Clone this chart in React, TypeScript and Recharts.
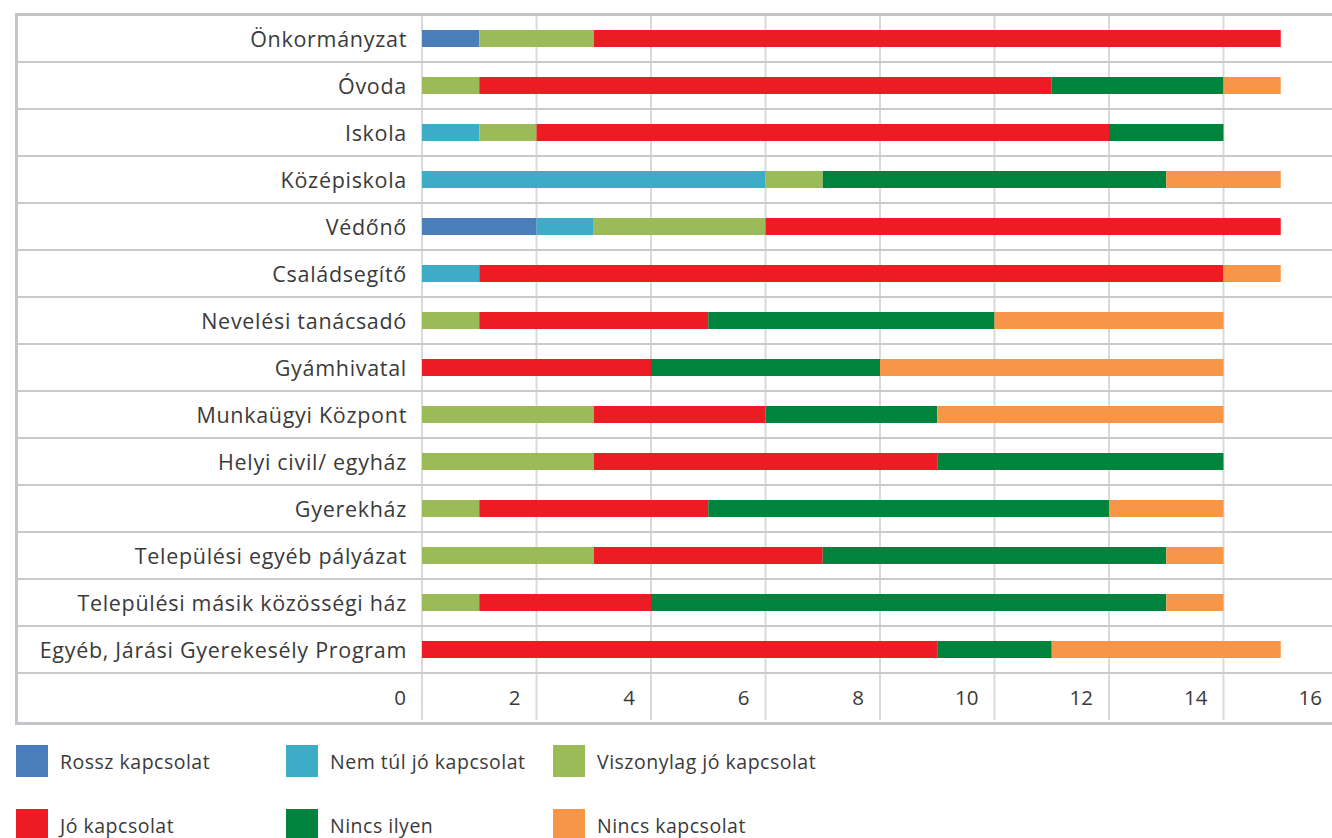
import React from 'react'
import { BarChart, Bar, XAxis, YAxis, CartesianGrid } from 'recharts'

const categories = [
  'Önkormányzat',
  'Óvoda',
  'Iskola',
  'Középiskola',
  'Védőnő',
  'Családsegítő',
  'Nevelési tanácsadó',
  'Gyámhivatal',
  'Munkaügyi Központ',
  'Helyi civil/ egyház',
  'Gyerekház',
  'Települési egyéb pályázat',
  'Települési másik közösségi ház',
  'Egyéb, Járási Gyerekesély Program',
]

const rossz = [1, 0, 0, 0, 2, 0, 0, 0, 0, 0, 0, 0, 0, 0]
const nemTulJo = [0, 0, 1, 6, 1, 1, 0, 0, 0, 0, 0, 0, 0, 0]
const viszonylagJo = [2, 1, 1, 1, 3, 0, 1, 0, 3, 3, 1, 3, 1, 0]
const jo = [12, 10, 10, 0, 9, 13, 4, 4, 3, 6, 4, 4, 3, 9]
const nincsIlyen = [0, 3, 2, 6, 0, 0, 5, 4, 3, 5, 7, 6, 9, 2]
const nincsKapcsolat = [0, 1, 0, 2, 0, 1, 4, 6, 5, 0, 2, 1, 1, 4]

const xTicks = [0, 2, 4, 6, 8, 10, 12, 14, 16]

const series = [
  { key: 'rossz', name: 'Rossz kapcsolat', color: '#4A7EBB', values: rossz },
  { key: 'nemTulJo', name: 'Nem túl jó kapcsolat', color: '#3FACC7', values: nemTulJo },
  { key: 'viszonylagJo', name: 'Viszonylag jó kapcsolat', color: '#9BBB59', values: viszonylagJo },
  { key: 'jo', name: 'Jó kapcsolat', color: '#ED1C24', values: jo },
  { key: 'nincsIlyen', name: 'Nincs ilyen', color: '#00843D', values: nincsIlyen },
  { key: 'nincsKapcsolat', name: 'Nincs kapcsolat', color: '#F79646', values: nincsKapcsolat },
]

const data = categories.map((name, i) => {
  const row: Record<string, string | number> = { name }
  series.forEach((s) => {
    row[s.key] = s.values[i]
  })
  return row
})

// layout
const CHART_W = 1345
const CHART_H = 838
const FRAME_LEFT = 17
const TOP = 15
const LABEL_W = 405
const AXIS_H = 47
const BOTTOM = 118
const BAND = (CHART_H - TOP - BOTTOM - AXIS_H) / categories.length

const FONT = '"Open Sans", Lato, sans-serif'
const TEXT = '#3a3a3a'
const ROW_LINE = '#cacaca'
const GRID_LINE = '#dadada'

const CategoryTick = (props: any) => {
  const { x, y, payload } = props
  return (
    <g>
      <line x1={FRAME_LEFT} x2={CHART_W} y1={y + BAND / 2} y2={y + BAND / 2} stroke={ROW_LINE} strokeWidth={2} />
      <text
        x={x - 15}
        y={y}
        textAnchor="end"
        dominantBaseline="central"
        fontSize={21.5}
        letterSpacing={0.7}
        fill={TEXT}
        fontFamily={FONT}
      >
        {payload.value}
      </text>
    </g>
  )
}

const ValueTick = (props: any) => {
  const { x, y, payload } = props
  return (
    <g>
      <line x1={x} x2={x} y1={y} y2={y + AXIS_H} stroke={GRID_LINE} strokeWidth={2} />
      <text x={x - 16} y={y + AXIS_H / 2} textAnchor="end" dominantBaseline="central" fontSize={20.5} fill={TEXT} fontFamily={FONT}>
        {payload.value}
      </text>
    </g>
  )
}

const legendRows = [series.slice(0, 3), series.slice(3, 6)]
const legendCols = [16, 286, 553]

export default function App() {
  return (
    <div style={{ position: 'absolute', left: 0, top: 0, width: 1332, height: 838, overflow: 'hidden', background: '#fff' }}>
      <BarChart
        width={CHART_W}
        height={CHART_H}
        data={data}
        layout="vertical"
        barSize={17}
        margin={{ top: TOP, right: 7, left: FRAME_LEFT, bottom: BOTTOM }}
      >
        <CartesianGrid horizontal={false} stroke={GRID_LINE} strokeWidth={2} />
        <XAxis
          type="number"
          domain={[0, 16]}
          ticks={xTicks}
          interval={0}
          height={AXIS_H}
          axisLine={false}
          tickLine={false}
          tickSize={0}
          tickMargin={0}
          tick={<ValueTick />}
        />
        <YAxis
          type="category"
          dataKey="name"
          width={LABEL_W}
          axisLine={false}
          tickLine={false}
          tickSize={0}
          tickMargin={0}
          interval={0}
          tick={<CategoryTick />}
        />
        {series.map((s) => (
          <Bar key={s.key} dataKey={s.key} name={s.name} stackId="a" fill={s.color} isAnimationActive={false} />
        ))}
      </BarChart>
      <div
        style={{
          position: 'absolute',
          left: FRAME_LEFT - 2,
          top: TOP - 2,
          width: 1400,
          height: categories.length * BAND + AXIS_H + 1,
          border: '3px solid #c4c4c9',
          boxSizing: 'content-box',
          pointerEvents: 'none',
        }}
      />
      {legendRows.map((row, r) =>
        row.map((s, c) => (
          <div
            key={s.key}
            style={{
              position: 'absolute',
              left: legendCols[c],
              top: 745 + r * 64,
              height: 32,
              display: 'flex',
              alignItems: 'center',
              fontFamily: FONT,
              fontSize: 19.5,
              letterSpacing: 0.5,
              color: TEXT,
              whiteSpace: 'nowrap',
            }}
          >
            <span style={{ display: 'inline-block', width: 32, height: 32, background: s.color, marginRight: 12 }} />
            {s.name}
          </div>
        ))
      )}
    </div>
  )
}
